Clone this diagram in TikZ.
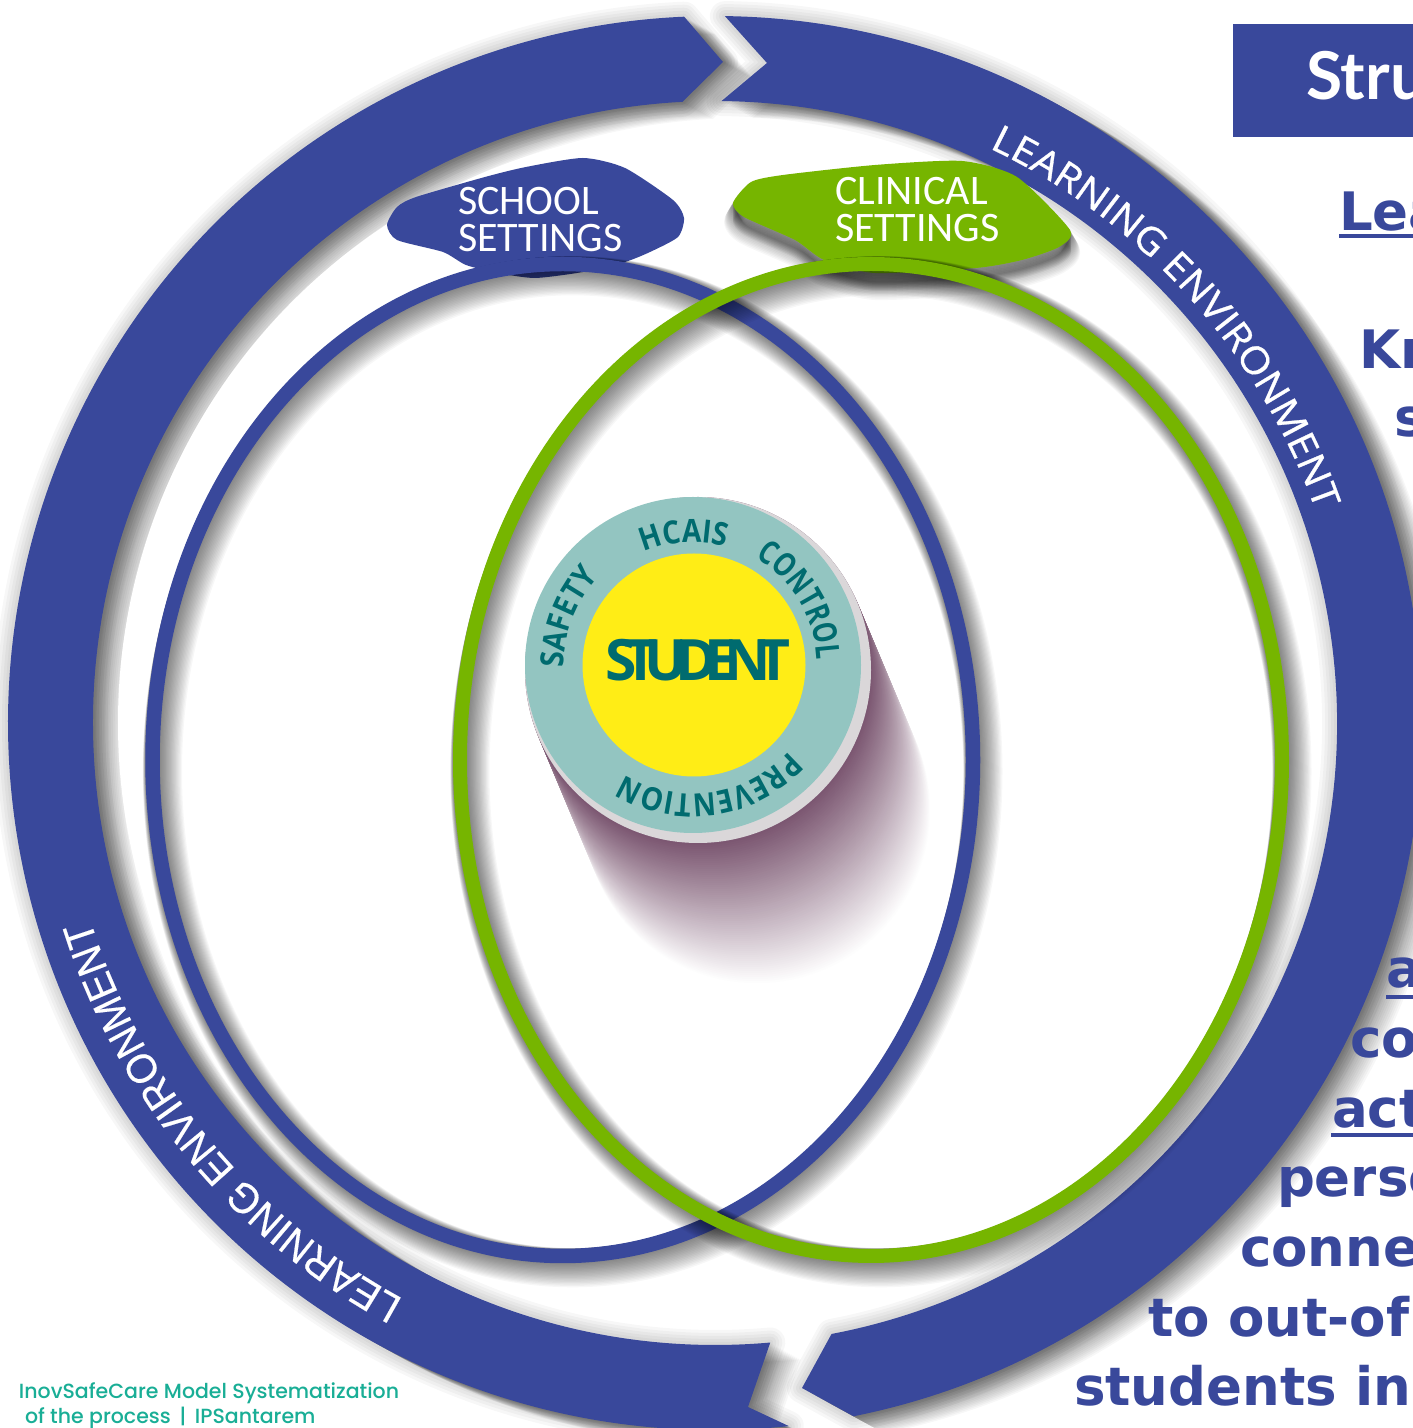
\documentclass[tikz,border=0pt]{standalone}
\usepackage{fontspec}
\usetikzlibrary{decorations.text}
\setmainfont{Open Sans}
\newfontfamily\upperfont[FakeStretch=1.08,FakeBold=.8]{Open Sans}
\newfontfamily\lowerfont[FakeStretch=.94,FakeBold=.4]{Liberation Sans}
\newfontfamily\discfont[FakeStretch=.88]{Open Sans}
\newfontfamily\narrowfont[FakeStretch=.78]{Open Sans}
\newfontfamily\studentfont[LetterSpace=-22]{Open Sans}
\newfontfamily\settingfont{Carlito}
\newfontfamily\headfont{Lato}
\newfontfamily\bodyfont{DejaVu Sans}
\newfontfamily\notefont{Poppins Medium}
\definecolor{bandblue}{HTML}{39489B}
\definecolor{leafgreen}{HTML}{76B500}
\definecolor{ringteal}{HTML}{93C5C1}
\definecolor{inkteal}{HTML}{006B6F}
\definecolor{coreyellow}{HTML}{FFED16}
\definecolor{rimgrey}{HTML}{DAD7D9}
\definecolor{plumshade}{HTML}{7A5570}
\definecolor{noteteal}{HTML}{19AE96}
\newcommand{\leftband}{(276:707) arc[start angle=276,end angle=92.5,radius=707] -- (8,661) -- (93:622) arc[start angle=93,end angle=275.1,radius=622] -- (33,-684) -- cycle}
\newcommand{\rightband}{(89.2:707) arc[start angle=89.2,end angle=-78.7,radius=707] -- (87,-665) -- (-79.2:622) arc[start angle=-79.2,end angle=89.4,radius=622] -- (52,660) -- cycle}
\newcommand{\schoolblob}{plot[smooth cycle,tension=.4] coordinates {(583,1270) (625,1260) (673,1228) (684,1210) (678,1191) (650,1176) (625,1166) (583,1156) (535,1150) (498,1155) (466,1163) (443,1176) (397,1188) (387,1203) (397,1221) (416,1231) (485,1251) (526,1261)}}
\newcommand{\clinicblob}{plot[smooth cycle,tension=.4] coordinates {(962,1267) (1017,1251) (1070,1198) (1059,1181) (1022,1168) (976,1160) (875,1155) (824,1168) (795,1188) (744,1211) (733,1225) (751,1246) (783,1253) (875,1263)}}
\newcommand{\softshadow}[5][]{\foreach \d in {1,...,#5} {\path[shadow ink,shift={(#3*\d,#4*\d)},#1] #2;}}
\begin{document}
\begin{tikzpicture}[x=1pt,y=1pt]
    \tikzstyle{shadow ink}=[opacity=.032,line join=round]
    \tikzstyle{every node}=[inner sep=0pt,outer sep=0pt]
    \tikzstyle{body text}=[anchor=base west,text=bandblue,font={\bodyfont\bfseries\fontsize{53}{53}\selectfont}]
    \tikzstyle{setting text}=[anchor=base west,align=left,text=white,font={\settingfont\fontsize{42}{37}\selectfont}]
    \tikzstyle{note text}=[anchor=base west,text=noteteal,font={\notefont\fontsize{20.5}{20.5}\selectfont}]
    \tikzstyle{disc word}=[decorate]
    \useasboundingbox (0,0) rectangle (1413,1428);
    \clip (0,0) rectangle (1413,1428);
    \fill[white] (0,0) rectangle (1413,1428);
    \begin{scope}[shift={(715,705)}]
        \softshadow[draw=black,line width=6*\d]{\leftband}{0}{0}{5}
        \softshadow[draw=black,line width=6*\d]{\rightband}{0}{0}{5}
        \softshadow[fill=black]{\leftband}{1.8}{-1}{17}
        \softshadow[fill=black]{\rightband}{1.8}{-1}{17}
        \fill[white] (0,0) circle[radius=597];
        \fill[bandblue] \leftband;
        \fill[bandblue] \rightband;
        \path[decorate,decoration={text along path,text={|\upperfont\fontsize{38}{38}\selectfont\color{white}|LEARNING ENVIRONMENT}}] (64.5:637) arc[start angle=64.5,end angle=10,radius=637];
        \path[decorate,decoration={text along path,text={|\lowerfont\fontsize{42}{42}\selectfont\color{white}|LEARNING ENVIRONMENT}}] (241.6:655) arc[start angle=241.6,end angle=186,radius=655];
    \end{scope}
    \softshadow[fill=black,draw=black,line width=\d]{\clinicblob}{0}{-1}{18}
    \fill[bandblue] \schoolblob;
    \fill[leafgreen] \clinicblob;
    \node[setting text] (school) at (458,1176) {SCHOOL\\SETTINGS};
    \node[setting text] (clinical) at (835,1186) {CLINICAL\\SETTINGS};
    \softshadow[draw=black,line width=14+1.4*\d]{(562.75,668) ellipse[x radius=410.25,y radius=496]}{.55}{-.65}{18}
    \draw[bandblue,line width=14.5] (562.75,668) ellipse[x radius=410.25,y radius=496];
    \softshadow[draw=black,line width=14+1.4*\d]{(871,668) ellipse[x radius=411,y radius=496]}{.55}{-.65}{18}
    \draw[leafgreen,line width=14] (871,668) ellipse[x radius=411,y radius=496];
    \foreach \i in {142,140,...,0} {
        \pgfmathsetmacro{\mixval}{100*(1-\i/142)}
        \fill[plumshade!\mixval!white] (698+.42*\i,758-\i) circle[radius=173];
    }
    \fill[rimgrey] (698,758) circle[radius=173];
    \fill[ringteal] (693,763) circle[radius=168];
    \fill[coreyellow] (694,763) circle[radius=111.5];
    \begin{scope}[shift={(693,763)}]
        \path[disc word,decoration={text along path,text align=center,text={|\discfont\bfseries\fontsize{32}{32}\selectfont\color{inkteal}|HCAIS}}] (134:123) arc[start angle=134,end angle=54,radius=123];
        \path[disc word,decoration={text along path,text align=center,text={|\narrowfont\bfseries\fontsize{33}{33}\selectfont\color{inkteal}|CONTROL}}] (81:124) arc[start angle=81,end angle=-19,radius=124];
        \path[disc word,decoration={text along path,text align=center,text={|\discfont\bfseries\fontsize{32}{32}\selectfont\color{inkteal}|PREVENTION}}] (-20:129) arc[start angle=-20,end angle=-144,radius=129];
        \path[disc word,decoration={text along path,text align=center,text={|\discfont\bfseries\fontsize{32}{32}\selectfont\color{inkteal}|SAFETY}}] (209:129) arc[start angle=209,end angle=109,radius=129];
    \end{scope}
    \node[anchor=base,text=inkteal,font={\studentfont\bfseries\fontsize{57}{57}\selectfont}] (student) at (698,747) {STUDENT};
    \fill[bandblue] (1233,1291) rectangle (1413,1404);
    \node[anchor=base west,text=white,font={\headfont\bfseries\fontsize{66}{66}\selectfont}] (head) at (1306,1328) {Stru};
    \node[body text] (lea) at (1339,1197) {Lea};
    \draw[bandblue,line width=4.5] (1339,1192) -- (1413,1192);
    \node[body text] (kn) at (1359,1059) {Kn};
    \node[body text] (ss) at (1394,991) {s};
    \node[body text] (aa) at (1386,440) {a};
    \draw[bandblue,line width=4] (1386,431) -- (1413,431);
    \node[body text] (co) at (1350,370) {co};
    \node[body text] (act) at (1332,300) {act};
    \draw[bandblue,line width=4] (1331,293) -- (1413,293);
    \node[body text] (perso) at (1277,231) {perso};
    \node[body text] (conne) at (1240,161) {conne};
    \node[body text] (outof) at (1148,91) {to out-of};
    \node[body text] (students) at (1074,23) {students in};
    \node[note text] (notea) at (19,30) {InovSafeCare Model Systematization};
    \node[note text] (noteb) at (25,5) {of the process\ \,|\ \,IPSantarem};
\end{tikzpicture}
\end{document}
